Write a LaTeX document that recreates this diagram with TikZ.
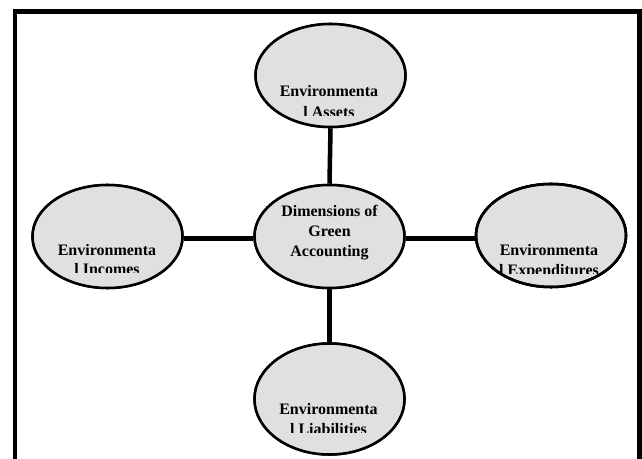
\documentclass[tikz,border=0pt]{standalone}
\usepackage{fontspec}
\setmainfont{Liberation Serif}
\usetikzlibrary{shapes.geometric}
\definecolor{ellfill}{RGB}{224,224,224}
\tikzset{
  ell/.style={ellipse, draw=black, fill=ellfill, line width=1.9pt, inner sep=0pt,
              minimum width=150*0.75pt, minimum height=103*0.75pt},
  link/.style={line width=3.4pt, draw=black},
  frame/.style={line width=3.4pt, draw=black},
  lbl/.style={font=\bfseries\fontsize{12pt}{14pt}\selectfont, anchor=base, inner sep=0pt},
}
\begin{document}
\begin{tikzpicture}[x=0.75pt,y=-0.75pt]
\useasboundingbox (0,0) rectangle (642,459);
% frame
\coordinate (fbl) at (15,470);
\coordinate (ftl) at (15,11.5);
\coordinate (ftr) at (639.5,11.5);
\coordinate (fbr) at (639.5,470);
\draw[frame] (fbl) -- (ftl) -- (ftr) -- (fbr);
% ellipses (placed first to be named)
\node[ell] (center) at (329.5,236.5) {};
\node[ell] (assets) at (330.5,75.5) {};
\node[ell] (incomes) at (107.5,236.5) {};
\node[ell] (expend) at (551,235.5) {};
\node[ell, minimum height=111*0.75pt] (liab) at (329.5,399) {};
% connectors
\draw[link] (assets.south) -- (center.north);
\draw[link] (center.south) -- (liab.north);
\draw[link] (incomes.east |- 0,238.5) -- (center.west |- 0,238.5);
\draw[link] (center.east |- 0,238.5) -- (expend.west |- 0,238.5);
% redraw ellipses above connectors
\node[ell] at (center) {};
\node[ell] at (assets) {};
\node[ell] at (incomes) {};
\node[ell] at (expend) {};
\node[ell, minimum height=111*0.75pt] at (liab) {};
% centre text
\node[lbl] (c1) at (329.5,217) {Dimensions of};
\node[lbl] (c2) at (329.5,237) {Green};
\node[lbl] (c3) at (329.5,257) {Accounting};
% outer texts (second line clipped)
\begin{scope}
\clip (250,80) rectangle (410,115.5);
\node[lbl] (a1) at (329,97) {Environmenta};
\node[lbl] (a2) at (329,118) {l Assets};
\end{scope}
\begin{scope}
\clip (25,240) rectangle (190,272.5);
\node[lbl] (i1) at (107,255.5) {Environmenta};
\node[lbl] (i2) at (107,275) {l Incomes};
\end{scope}
\begin{scope}
\clip (470,240) rectangle (635,273.5);
\node[lbl] (e1) at (549,256) {Environmenta};
\node[lbl] (e2) at (549,276) {l Expenditures};
\end{scope}
\begin{scope}
\clip (250,395) rectangle (410,432);
\node[lbl] (l1) at (328.5,414) {Environmenta};
\node[lbl] (l2) at (328.5,434.5) {l Liabilities};
\end{scope}
% outline again over text
\node[ell, fill=none] at (expend) {};
\end{tikzpicture}
\end{document}
